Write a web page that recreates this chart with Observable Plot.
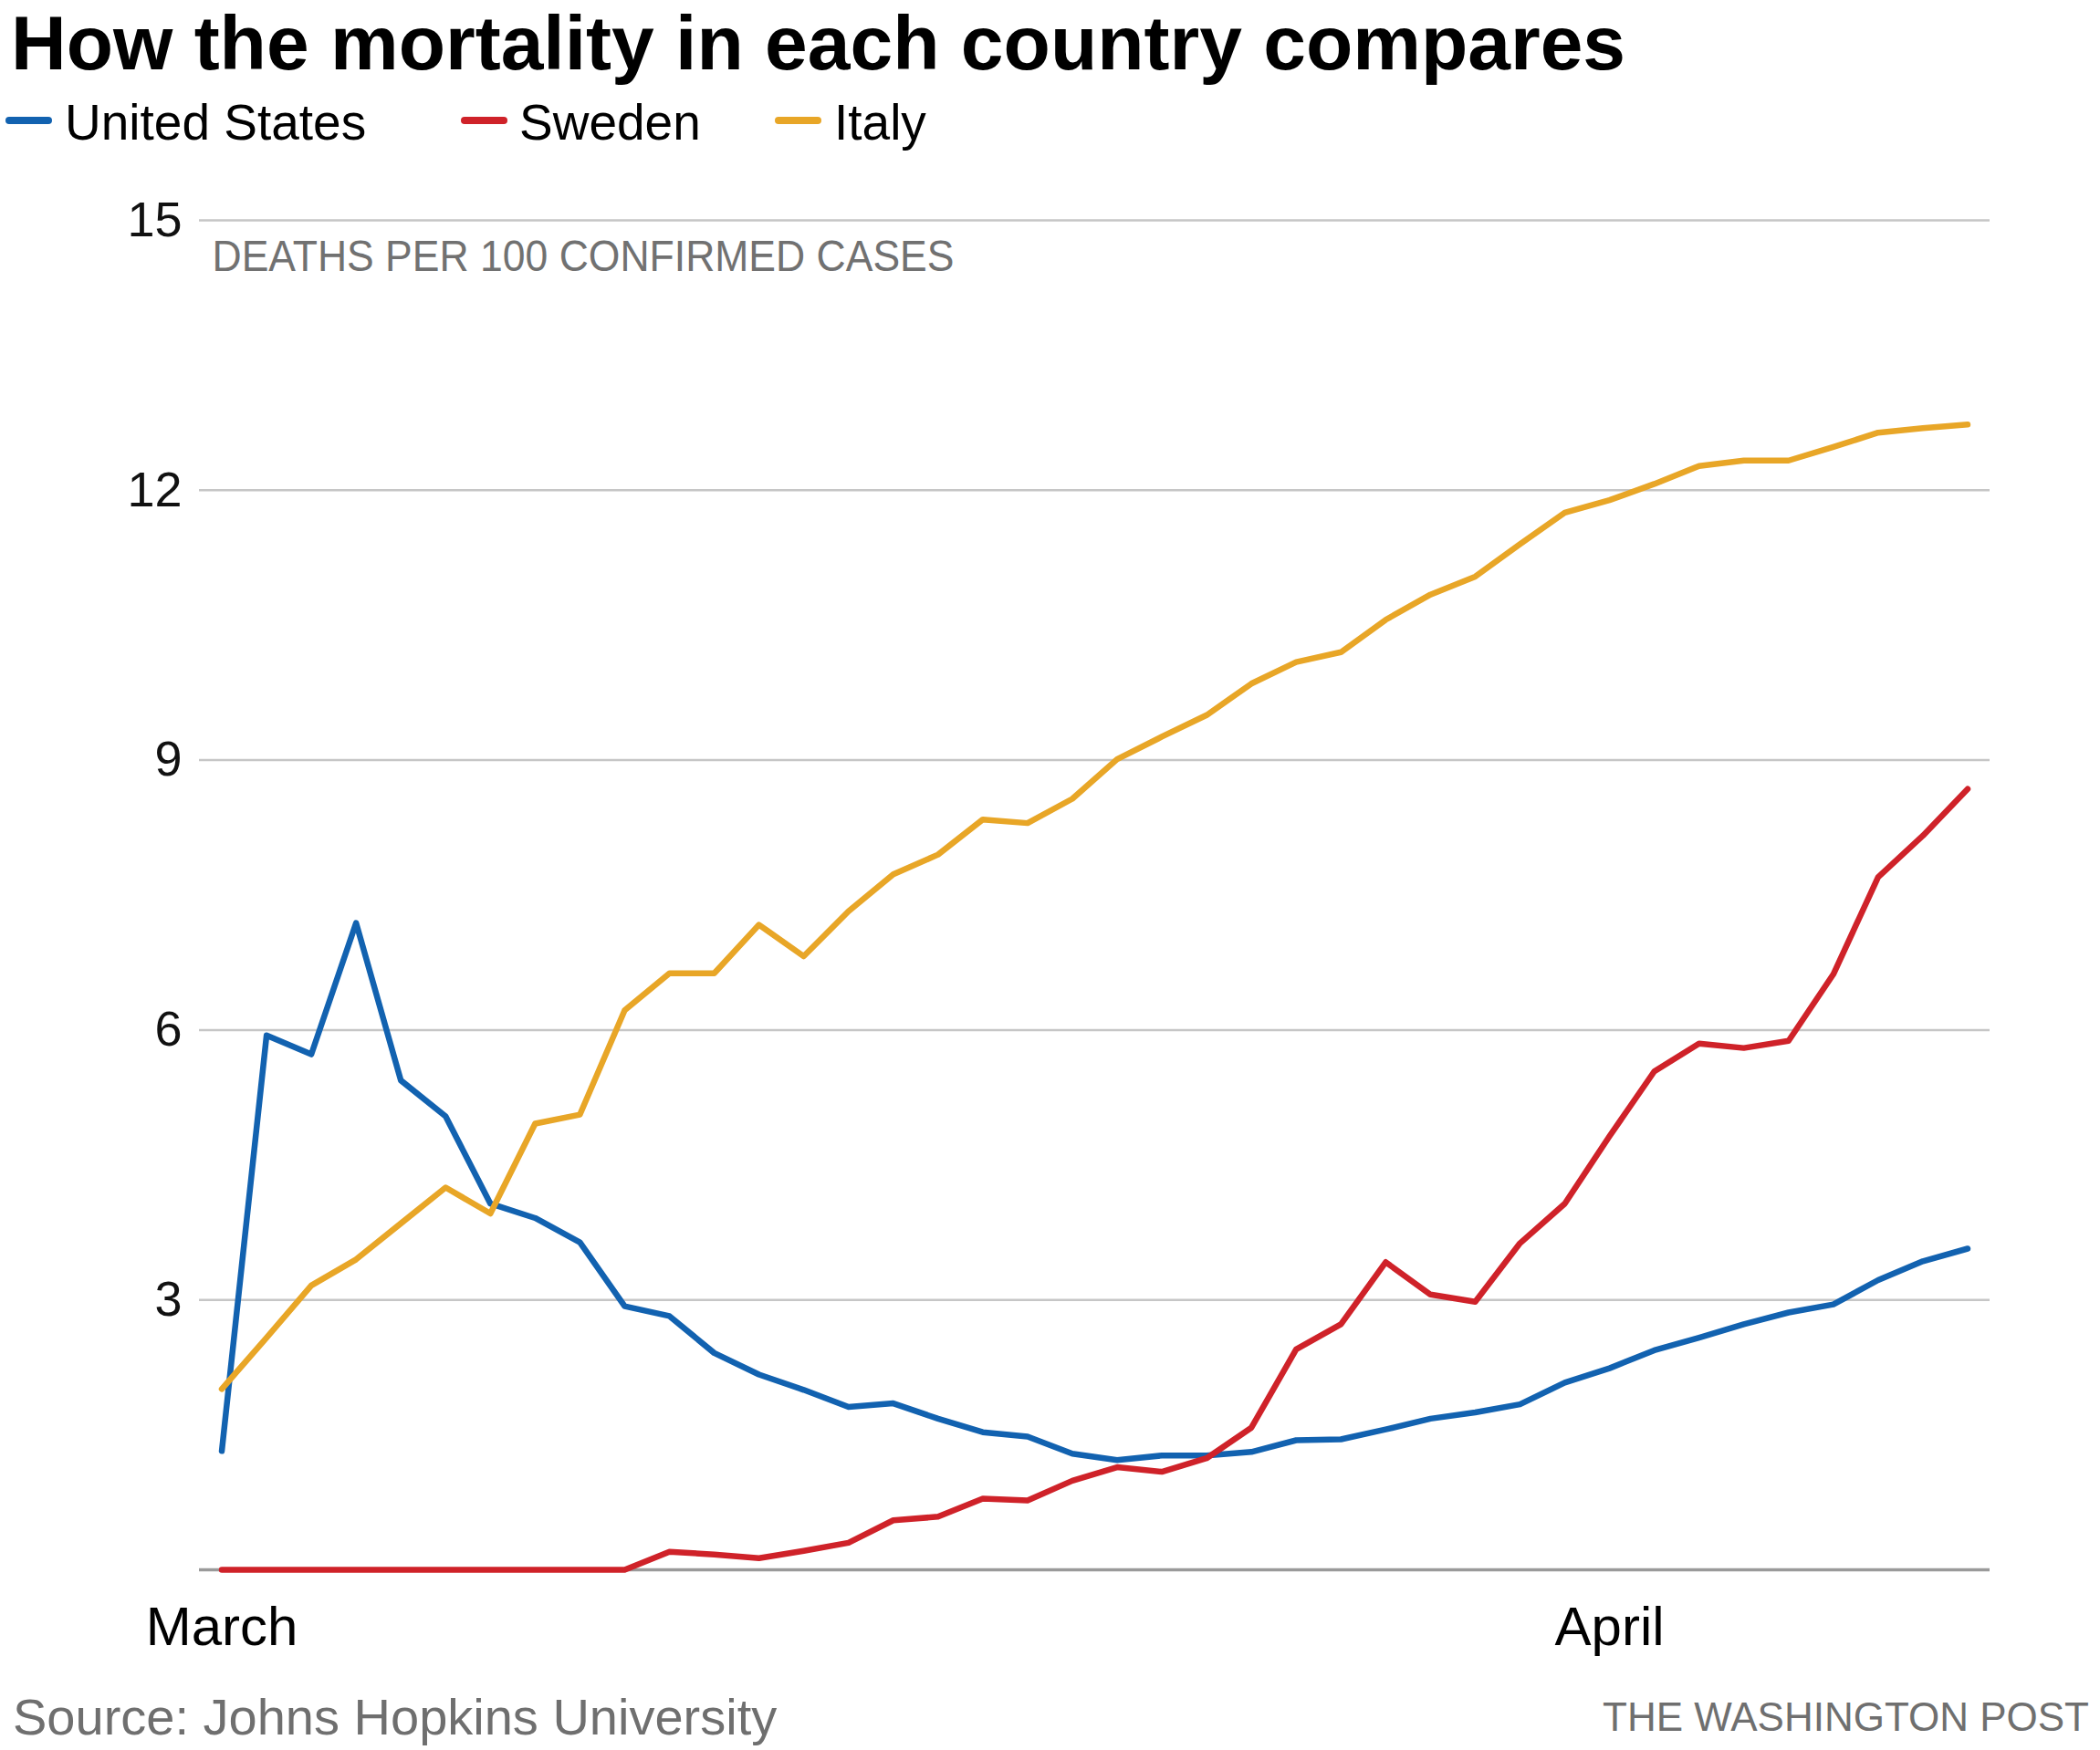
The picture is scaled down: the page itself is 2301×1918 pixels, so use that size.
<!DOCTYPE html>
<html>
<head>
<meta charset="utf-8">
<script src="https://cdn.jsdelivr.net/npm/d3@7"></script>
<script src="https://cdn.jsdelivr.net/npm/@observablehq/plot@0.6"></script>
<style>
html, body { margin: 0; padding: 0; background: #fff; }
#page { position: relative; width: 2301px; height: 1918px; overflow: hidden; font-family: "Liberation Sans", Arial, sans-serif; background: #fff; }
.abs { position: absolute; white-space: nowrap; line-height: 1; }
#title { left: 12px; top: 5px; font-size: 84px; font-weight: bold; color: #000; }
.legtext { top: 107px; font-size: 55px; color: #000; }
.sw { position: absolute; top: 128px; height: 8px; width: 51px; border-radius: 4px; }
#chart { position: absolute; left: 0; top: 167px; }
#source { left: 14px; top: 1854px; font-size: 56px; color: #6f6f6f; }
#credit { right: 12px; top: 1860px; font-size: 44px; color: #6f6f6f; }
</style>
</head>
<body>
<div id="page">
  <div id="title" class="abs"></div>
  <div id="legend"></div>
  <div id="chart"></div>
  <div id="source" class="abs"></div>
  <div id="credit" class="abs"></div>
</div>
<script>
// ---- Data ----
const titleText = "How the mortality in each country compares";
const subtitleText = "DEATHS PER 100 CONFIRMED CASES";
const sourceText = "Source: Johns Hopkins University";
const creditText = "THE WASHINGTON POST";

const countries = ["United States", "Sweden", "Italy"];
const colors = ["#1262b0", "#cf2229", "#e8a627"];

const dates = [
  "2020-03-01","2020-03-02","2020-03-03","2020-03-04","2020-03-05","2020-03-06","2020-03-07","2020-03-08",
  "2020-03-09","2020-03-10","2020-03-11","2020-03-12","2020-03-13","2020-03-14","2020-03-15","2020-03-16",
  "2020-03-17","2020-03-18","2020-03-19","2020-03-20","2020-03-21","2020-03-22","2020-03-23","2020-03-24",
  "2020-03-25","2020-03-26","2020-03-27","2020-03-28","2020-03-29","2020-03-30","2020-03-31","2020-04-01",
  "2020-04-02","2020-04-03","2020-04-04","2020-04-05","2020-04-06","2020-04-07","2020-04-08","2020-04-09"
];

const unitedStates = [1.32, 5.94, 5.73, 7.19, 5.44, 5.04, 4.07, 3.91, 3.64, 2.93,
  2.82, 2.41, 2.17, 2.00, 1.81, 1.85, 1.68, 1.53, 1.48, 1.29,
  1.22, 1.27, 1.27, 1.31, 1.44, 1.45, 1.56, 1.68, 1.75, 1.84,
  2.08, 2.24, 2.44, 2.58, 2.73, 2.86, 2.95, 3.22, 3.43, 3.57];

const sweden = [0, 0, 0, 0, 0, 0, 0, 0, 0, 0,
  0.20, 0.17, 0.13, 0.21, 0.30, 0.55, 0.59, 0.79, 0.77, 0.99,
  1.14, 1.09, 1.24, 1.58, 2.45, 2.73, 3.42, 3.06, 2.98, 3.63,
  4.07, 4.82, 5.54, 5.85, 5.80, 5.88, 6.62, 7.70, 8.16, 8.68];

const italy = [2.01, 2.58, 3.16, 3.45, 3.85, 4.25, 3.96, 4.96, 5.06, 6.22,
  6.63, 6.63, 7.17, 6.82, 7.32, 7.73, 7.95, 8.34, 8.30, 8.57,
  9.01, 9.26, 9.50, 9.85, 10.09, 10.20, 10.56, 10.84, 11.04, 11.40,
  11.75, 11.89, 12.07, 12.27, 12.33, 12.33, 12.48, 12.64, 12.69, 12.73];

const yTicks = [3, 6, 9, 12, 15];
const xTickDates = ["2020-03-01", "2020-04-01"];
const xDomain = ["2020-02-29T12:00Z", "2020-04-09T12:00Z"];

// ---- Build table ----
const seriesValues = [unitedStates, sweden, italy];
const rows = [];
countries.forEach((c, i) => {
  seriesValues[i].forEach((v, j) => rows.push({country: c, date: new Date(dates[j]), value: v}));
});

// ---- Text ----
document.getElementById("title").textContent = titleText;
document.getElementById("source").textContent = sourceText;
document.getElementById("credit").textContent = creditText;

const legend = document.getElementById("legend");
const legendPos = [[6, 71], [505, 569], [849, 914]];
countries.forEach((c, i) => {
  const sw = document.createElement("div");
  sw.className = "sw";
  sw.style.left = legendPos[i][0] + "px";
  sw.style.background = colors[i];
  legend.appendChild(sw);
  const t = document.createElement("div");
  t.className = "abs legtext";
  t.style.left = legendPos[i][1] + "px";
  t.textContent = c;
  legend.appendChild(t);
});

// ---- Chart ----
const chart = Plot.plot({
  width: 2301,
  height: 1680,
  marginTop: 74,
  marginBottom: 127,
  marginLeft: 218,
  marginRight: 121,
  style: {fontFamily: "'Liberation Sans', Arial, sans-serif", background: "white", overflow: "visible"},
  x: {type: "utc", domain: xDomain.map(d => new Date(d))},
  y: {domain: [0, 15]},
  color: {domain: countries, range: colors},
  marks: [
    Plot.ruleY(yTicks, {stroke: "#c6c6c6", strokeWidth: 2.5}),
    Plot.ruleY([0], {stroke: "#9a9a9a", strokeWidth: 3.5}),
    Plot.axisY({ticks: yTicks, tickSize: 0, tickPadding: 19, fontSize: 54, fill: "#111", label: null}),
    Plot.axisX({ticks: xTickDates.map(d => new Date(d)), tickSize: 0, tickPadding: 40, fontSize: 60,
      fill: "#000", tickFormat: d3.utcFormat("%B"), label: null}),
    Plot.text([subtitleText], {frameAnchor: "top-left", text: d => d, dx: 14, dy: 55, lineAnchor: "bottom",
      textAnchor: "start", fontSize: 49, fill: "#717171"}),
    Plot.line(rows, {x: "date", y: "value", z: "country", stroke: "country", strokeWidth: 6.5,
      strokeLinejoin: "round", strokeLinecap: "round"})
  ]
});
document.getElementById("chart").appendChild(chart);

d3.select(chart).selectAll("text")
  .filter(function () { return this.textContent === subtitleText; })
  .attr("textLength", 813)
  .attr("lengthAdjust", "spacingAndGlyphs");
</script>
</body>
</html>
